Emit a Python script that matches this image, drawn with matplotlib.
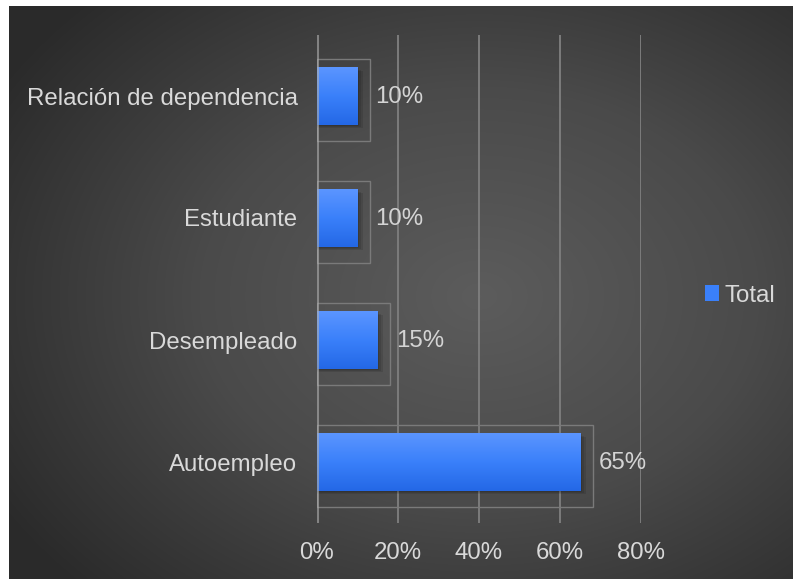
import numpy as np
import matplotlib.pyplot as plt
from matplotlib.patches import Rectangle
from matplotlib.colors import LinearSegmentedColormap

plt.rcParams['font.family'] = ['Liberation Sans', 'DejaVu Sans']

# datos
categorias = ['Autoempleo', 'Desempleado', 'Estudiante', 'Relación de dependencia']
valores = [65, 15, 10, 10]
ticks_x = [0, 20, 40, 60, 80]
serie = 'Total'

W, H = 793, 579
fs = 17.3
fig = plt.figure(figsize=(W / 100, H / 100), dpi=100)
fig.patch.set_facecolor('white')

# fondo oscuro con degradado radial
bg = fig.add_axes([9 / W, 0, (W - 9) / W, (H - 6) / H])
bg.set_axis_off()
yy, xx = np.mgrid[0:573, 0:784]
cx, cy = 470, 290
r = np.sqrt(((xx - cx) / 560.0) ** 2 + ((yy - cy) / 420.0) ** 2)
r = np.clip(r, 0, 1)
fondo = LinearSegmentedColormap.from_list('fondo', ['#5c5c5c', '#4a4a4a', '#2a2a2a'])
bg.imshow(r, cmap=fondo, vmin=0, vmax=1, aspect='auto', interpolation='bilinear')

ax = fig.add_axes([317 / W, (H - 523) / H, (641 - 317) / W, (523 - 35) / H])
ax.set_facecolor('none')

y = np.arange(len(categorias))
alto = 0.47
azul = LinearSegmentedColormap.from_list('azul', ['#5b95ff', '#3a80fa', '#2468e6'])
grad = np.linspace(0, 1, 64).reshape(-1, 1)

for yi, v in zip(y, valores):
    # marco tenue alrededor de cada barra
    ax.add_patch(Rectangle((0, yi - alto / 2 - 0.13), v + 3.1, alto + 0.2,
                           fill=False, edgecolor='#7a7a7a', lw=1, zorder=2))
    # sombra
    for k, a in enumerate([0.10, 0.10, 0.10]):
        d = 0.4 + k * 0.5
        ax.add_patch(Rectangle((0, yi - alto / 2 - d * 0.02), v + d, alto,
                               facecolor='black', alpha=a, lw=0, zorder=3))
    ax.imshow(grad, extent=[0, v, yi - alto / 2, yi + alto / 2], cmap=azul,
              aspect='auto', zorder=4, interpolation='bilinear')
    ax.annotate(f'{v}%', (v, yi), xytext=(13, -1), textcoords='offset points',
                va='center', ha='left', fontsize=fs, color='#d4d4d4')

ax.set_xlim(0, 80)
ax.set_ylim(-0.5, len(categorias) - 0.5)
ax.set_xticks(ticks_x)
ax.set_xticklabels([f'{t}%' for t in ticks_x])
ax.set_yticks(y)
ax.set_yticklabels(categorias)
ax.tick_params(length=0, labelsize=fs, labelcolor='#d9d9d9')
ax.tick_params(axis='x', pad=14)
ax.tick_params(axis='y', pad=14)

for t in ticks_x[1:]:
    ax.axvline(t, color='#7c7c7c', lw=1.4, zorder=1)
ax.axvline(0, color='#b0b0b0', lw=2.2, alpha=0.6, zorder=5)
for s in ax.spines.values():
    s.set_visible(False)

# leyenda
ax.legend(handles=[Rectangle((0, 0), 1, 1, facecolor='#3a80fa')], labels=[serie],
          loc='center left', bbox_to_anchor=((705 - 317) / (641 - 317), 0.466),
          frameon=False, fontsize=fs, labelcolor='#d9d9d9',
          handlelength=0.6, handleheight=0.6, handletextpad=0.2, borderpad=0,
          borderaxespad=0)

fig.savefig('out.png', dpi=100)
